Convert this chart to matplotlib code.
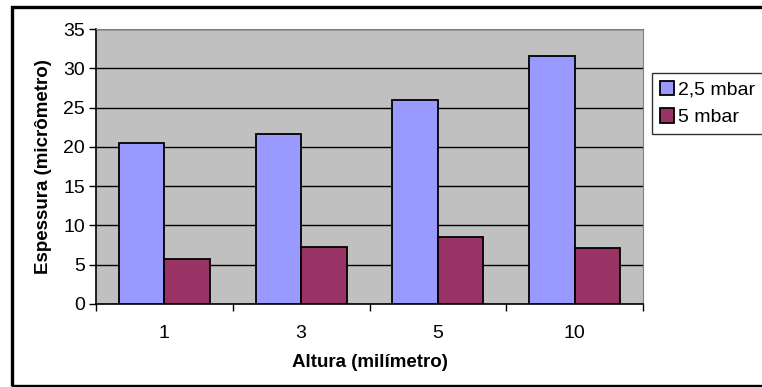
import numpy as np
import matplotlib.pyplot as plt
from matplotlib.patches import Rectangle

plt.rcParams['font.family'] = ['Liberation Sans', 'DejaVu Sans']

categorias = ["1", "3", "5", "10"]
serie_25 = [20.5, 21.6, 26.0, 31.6]
serie_5 = [5.7, 7.2, 8.5, 7.1]
nomes = ["2,5 mbar", "5 mbar"]

W, H = 762, 387
fig = plt.figure(figsize=(W / 100, H / 100), dpi=100)
ax = fig.add_axes([96 / W, 1 - 304 / H, (643 - 96) / W, (304 - 29) / H])

# moldura externa
fig.patches.append(Rectangle((12 / W, 1.5 / H), 1.2, 1 - 8.5 / H, transform=fig.transFigure,
                             fill=False, edgecolor="black", linewidth=2.4, clip_on=False))

ax.set_facecolor("#C0C0C0")
x = np.arange(len(categorias)) + 0.5
w = 1 / 3
ax.bar(x - w / 2, serie_25, w, color="#9999FF", edgecolor="black", linewidth=1.3,
       label=nomes[0], zorder=3)
ax.bar(x + w / 2, serie_5, w, color="#993366", edgecolor="black", linewidth=1.3,
       label=nomes[1], zorder=3)

ax.set_xlim(0, len(categorias))
ax.set_ylim(0, 35)
ax.set_yticks(range(0, 36, 5))
ax.yaxis.grid(True, color="black", linewidth=1)
ax.set_axisbelow(True)

ax.set_xticks(np.arange(len(categorias) + 1))
ax.set_xticklabels([])
ax.set_xticks(x, minor=True)
ax.set_xticklabels(categorias, minor=True)
ax.tick_params(axis="x", which="minor", length=0, pad=15, labelsize=14)
ax.tick_params(axis="x", which="major", length=5, width=1, direction="out")
ax.tick_params(axis="y", length=5, width=1, direction="out", pad=3, labelsize=14)

for s in ["top", "right"]:
    ax.spines[s].set_color("#808080")
for s in ["left", "bottom"]:
    ax.spines[s].set_color("black")
    ax.spines[s].set_linewidth(1.2)

ax.set_xlabel("Altura (milímetro)", fontsize=13.5, fontweight="bold", labelpad=9)
ax.set_ylabel("Espessura (micrômetro)", fontsize=13.5, fontweight="bold", labelpad=8)

leg = fig.legend(loc="upper left", bbox_to_anchor=(652 / W, 1 - 73 / H), frameon=True,
                 fancybox=False, edgecolor="black", fontsize=14, handlelength=0.75,
                 handleheight=0.75, handletextpad=0.2, borderpad=0.4, labelspacing=0.5,
                 borderaxespad=0)
leg.get_frame().set_linewidth(1)

fig.savefig("out.png", dpi=100)
